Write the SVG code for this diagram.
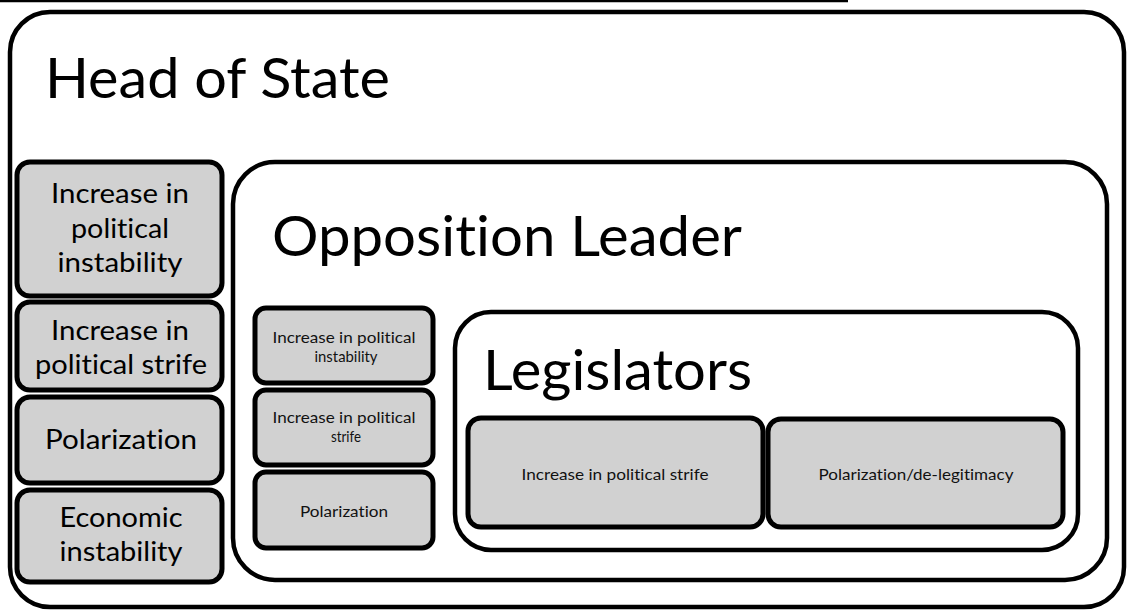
<svg xmlns="http://www.w3.org/2000/svg" width="1128" height="610" viewBox="0 0 1128 610">
  <style>
    .frame { fill: #ffffff; stroke: #000000; stroke-width: 4.5; }
    .item { fill: #d1d1d1; stroke: #000000; stroke-width: 5; }
    text { font-family: Lato, "Open Sans", "Liberation Sans", sans-serif; fill: #000000; text-anchor: middle;
           font-variant-ligatures: none; font-feature-settings: "liga" 0, "clig" 0; }
    .title { font-size: 57px; text-anchor: start; }
    .big { font-size: 26px; }
    .small { font-size: 16px; fill: #111111; }
  </style>

  <rect width="1128" height="610" fill="#ffffff"/>
  <!-- underline of the caption line above the figure -->
  <line x1="0" y1="1" x2="848" y2="1" stroke="#000000" stroke-width="2.5"/>

  <g id="head-of-state">
    <rect class="frame" x="10" y="12" width="1114" height="595" rx="40" ry="40"/>
    <text class="title" x="45" y="98" textLength="345" lengthAdjust="spacingAndGlyphs">Head of State</text>
  </g>

  <g id="hos-instability">
    <rect class="item" x="17" y="162" width="205" height="134" rx="13" ry="13"/>
    <text class="big" x="120" y="203" textLength="138" lengthAdjust="spacingAndGlyphs">Increase in</text>
    <text class="big" x="120" y="238" textLength="98" lengthAdjust="spacingAndGlyphs">political</text>
    <text class="big" x="120" y="272" textLength="125" lengthAdjust="spacingAndGlyphs">instability</text>
  </g>
  <g id="hos-strife">
    <rect class="item" x="17" y="302" width="205" height="88" rx="13" ry="13"/>
    <text class="big" x="120" y="340" textLength="138" lengthAdjust="spacingAndGlyphs">Increase in</text>
    <text class="big" x="121" y="374" textLength="172" lengthAdjust="spacingAndGlyphs">political strife</text>
  </g>
  <g id="hos-polarization">
    <rect class="item" x="17" y="397" width="205" height="86" rx="13" ry="13"/>
    <text class="big" x="121" y="449" textLength="152" lengthAdjust="spacingAndGlyphs">Polarization</text>
  </g>
  <g id="hos-economic">
    <rect class="item" x="17" y="490" width="205" height="92" rx="13" ry="13"/>
    <text class="big" x="121" y="527" textLength="123" lengthAdjust="spacingAndGlyphs">Economic</text>
    <text class="big" x="121" y="561" textLength="123" lengthAdjust="spacingAndGlyphs">instability</text>
  </g>

  <g id="opposition-leader">
    <rect class="frame" x="233" y="162" width="874" height="418" rx="42" ry="42"/>
    <text class="title" x="272" y="256" textLength="470" lengthAdjust="spacingAndGlyphs">Opposition Leader</text>
  </g>

  <g id="ol-instability">
    <rect class="item" x="255" y="308" width="178" height="75" rx="11" ry="11"/>
    <text class="small" x="344" y="343" textLength="143" lengthAdjust="spacingAndGlyphs">Increase in political</text>
    <text class="small" x="346" y="362" textLength="63" lengthAdjust="spacingAndGlyphs">instability</text>
  </g>
  <g id="ol-strife">
    <rect class="item" x="255" y="390" width="178" height="75" rx="11" ry="11"/>
    <text class="small" x="344" y="423" textLength="143" lengthAdjust="spacingAndGlyphs">Increase in political</text>
    <text class="small" x="346" y="442" textLength="30" lengthAdjust="spacingAndGlyphs">strife</text>
  </g>
  <g id="ol-polarization">
    <rect class="item" x="255" y="472" width="178" height="76" rx="11" ry="11"/>
    <text class="small" x="344" y="517" textLength="88" lengthAdjust="spacingAndGlyphs">Polarization</text>
  </g>

  <g id="legislators">
    <rect class="frame" x="455" y="312" width="623" height="238" rx="36" ry="36"/>
    <text class="title" x="483" y="390" textLength="269" lengthAdjust="spacingAndGlyphs">Legislators</text>
  </g>

  <g id="leg-strife">
    <rect class="item" x="468" y="418" width="295" height="109" rx="13" ry="13"/>
    <text class="small" x="615" y="480" textLength="187" lengthAdjust="spacingAndGlyphs">Increase in political strife</text>
  </g>
  <g id="leg-polarization">
    <rect class="item" x="768" y="419" width="295" height="108" rx="13" ry="13"/>
    <text class="small" x="916" y="480" textLength="195" lengthAdjust="spacingAndGlyphs">Polarization/de-legitimacy</text>
  </g>

  <g id="connectors"/>
</svg>
